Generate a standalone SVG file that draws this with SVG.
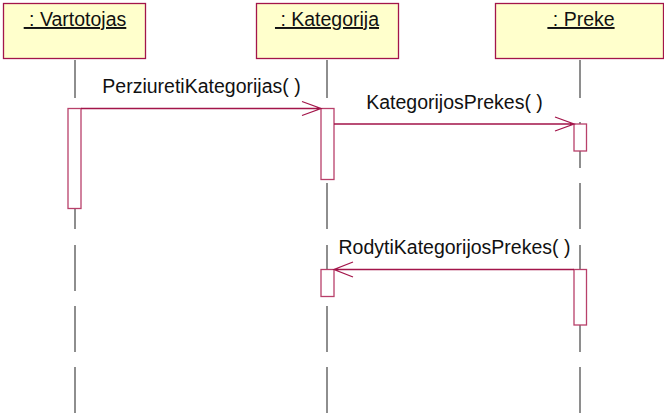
<svg xmlns="http://www.w3.org/2000/svg" width="664" height="418" viewBox="0 0 664 418">
<style>
.box{fill:#FFFFCC;stroke:#A3154A;stroke-width:1.3}
.act{fill:#FFFFFF;stroke:#B8406A;stroke-width:1.3}
.life{stroke:#6A6A6A;stroke-width:1.5;fill:none}
.msg{stroke:#A3154A;stroke-width:1.3;fill:none}
.lbl{font-family:"Liberation Sans",Arial,sans-serif;font-size:19.5px;fill:#111111}
.hdr{font-family:"Liberation Sans",Arial,sans-serif;font-size:19.5px;fill:#111111;text-decoration:underline;white-space:pre}
</style>
<rect width="664" height="418" fill="#FFFFFF"/>
<g id="lifelines">
<path class="life" d="M75 60V98M75 122V168M75 183V229M75 245V291M75 306V352M75 367V413"/>
<path class="life" d="M327 60V98M327 122V168M327 183V229M327 245V291M327 306V352M327 367V413"/>
<path class="life" d="M580 60V98M580 122V168M580 183V229M580 245V291M580 306V352M580 367V413"/>
</g>
<g id="n_vartotojas">
<rect class="box" x="3.5" y="3.5" width="142" height="55"/>
<text class="hdr" x="75" y="26" text-anchor="middle"> : Vartotojas</text>
<rect class="act" x="68" y="108.5" width="13" height="100"/>
</g>
<g id="n_kategorija">
<rect class="box" x="256.5" y="3.5" width="142" height="55"/>
<text class="hdr" x="327" y="26" text-anchor="middle"> : Kategorija</text>
<rect class="act" x="321" y="108.5" width="13" height="71"/>
<rect class="act" x="321" y="269.5" width="13" height="27"/>
</g>
<g id="n_preke">
<rect class="box" x="495.5" y="3.5" width="168" height="55"/>
<text class="hdr" x="581" y="26" text-anchor="middle"> : Preke</text>
<rect class="act" x="574" y="124" width="12.5" height="27"/>
<rect class="act" x="574" y="269.5" width="12.5" height="55.5"/>
</g>
<g id="connectors">
<path class="msg" d="M81 108.5H321M302 101.5L321 108.5L302 115.5"/>
<text class="lbl" x="201.5" y="93" text-anchor="middle">PerziuretiKategorijas( )</text>
<path class="msg" d="M334 124H574M555 117L574 124L555 131"/>
<text class="lbl" x="454.5" y="109" text-anchor="middle">KategorijosPrekes( )</text>
<path class="msg" d="M574 269.5H334M353 262L334 269.5L353 277"/>
<text class="lbl" x="454.5" y="254" text-anchor="middle">RodytiKategorijosPrekes( )</text>
</g>
</svg>
